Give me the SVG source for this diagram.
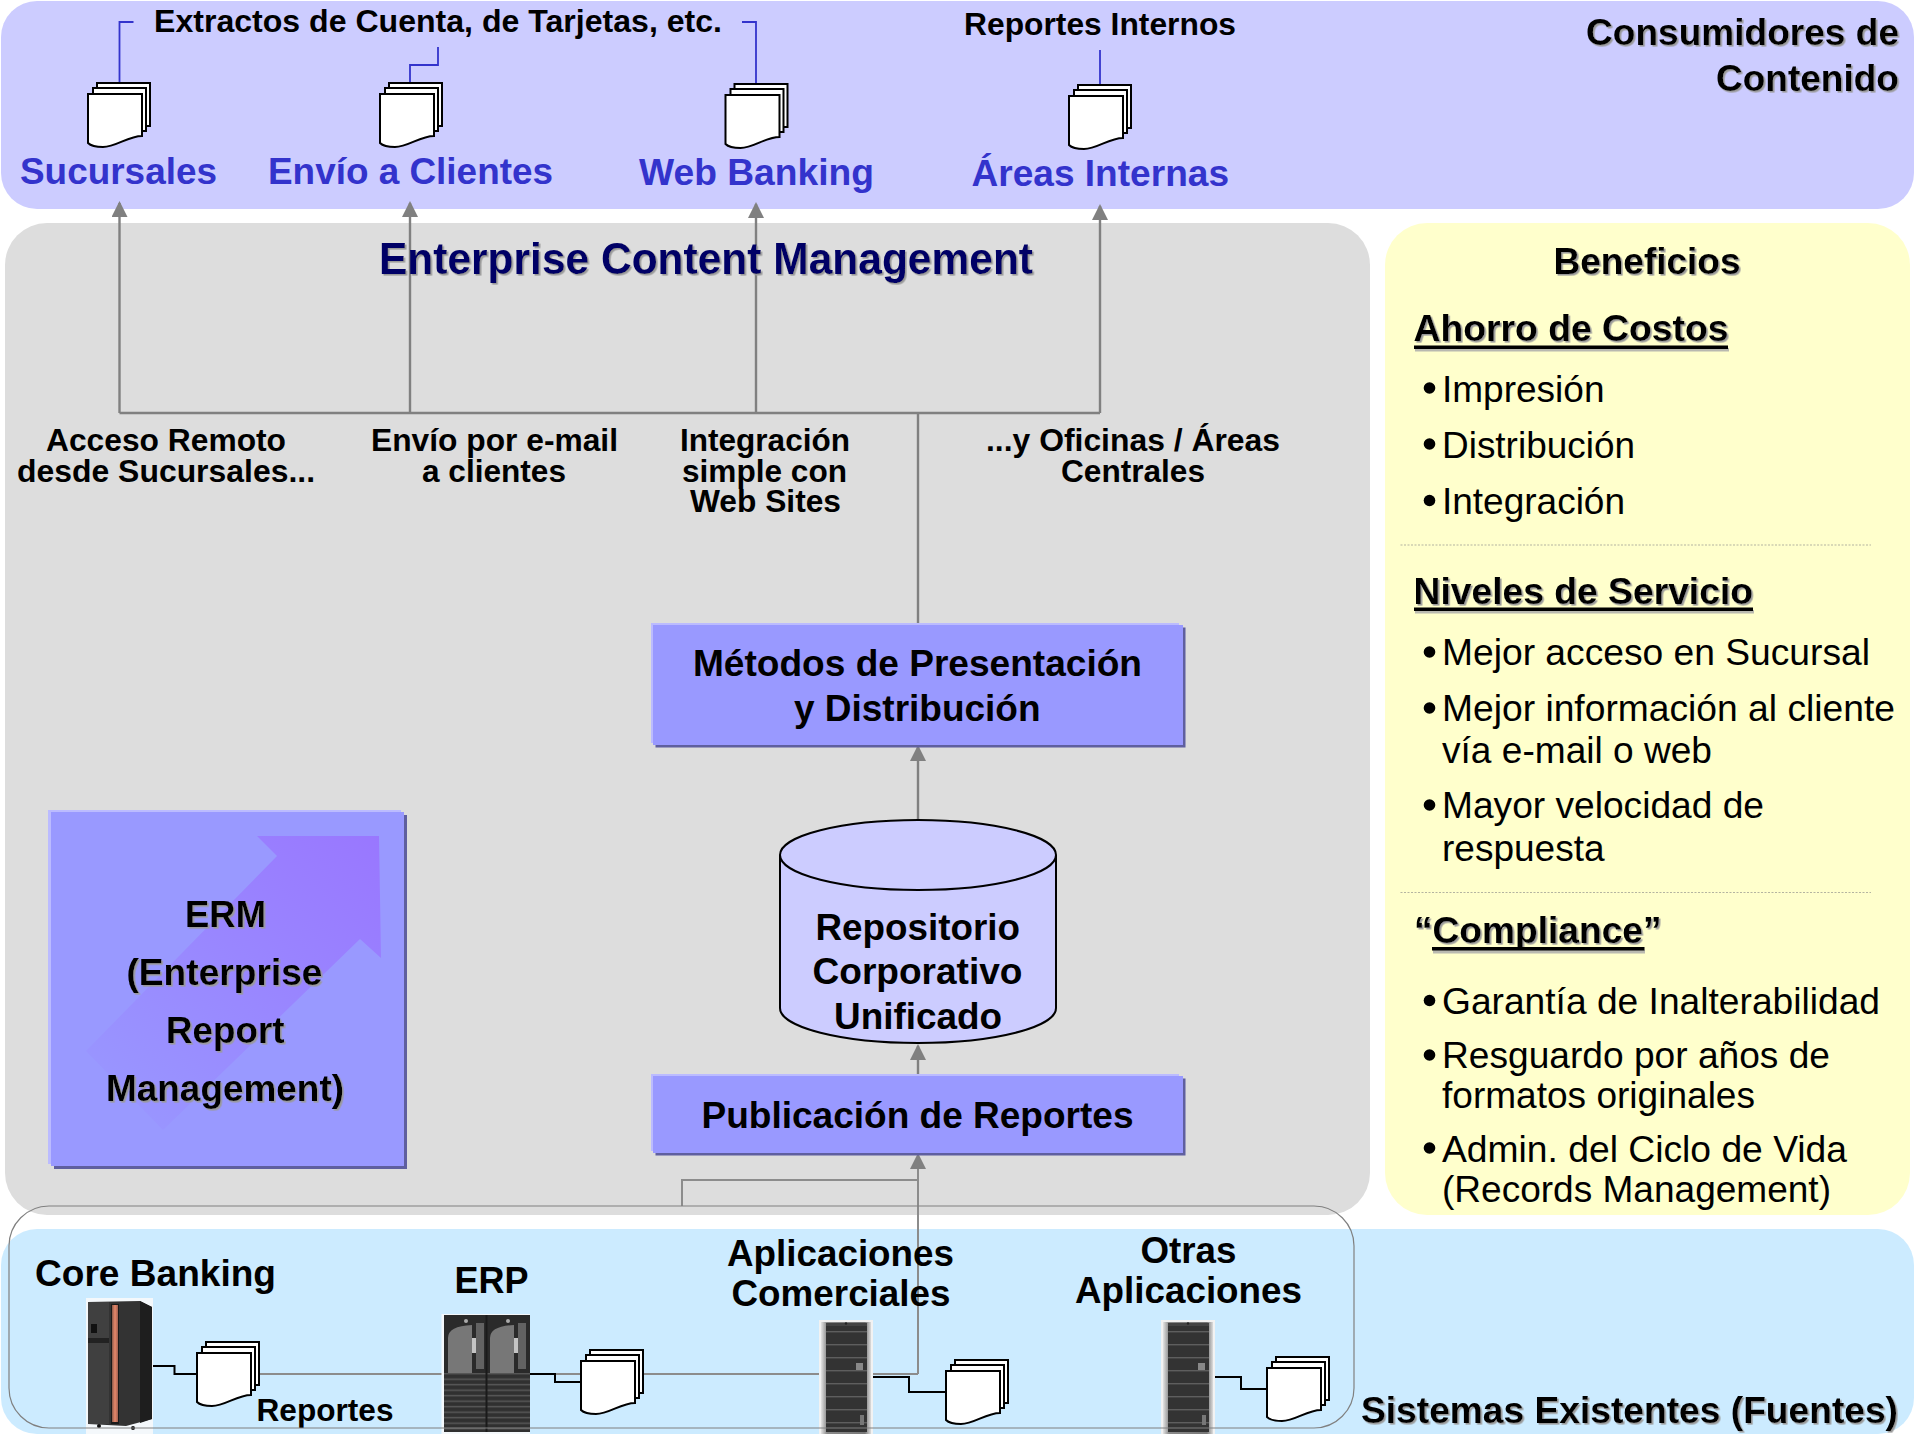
<svg xmlns="http://www.w3.org/2000/svg" xmlns:xlink="http://www.w3.org/1999/xlink" width="1915" height="1435" viewBox="0 0 1915 1435">
<style>
text{font-family:"Liberation Sans",Arial,sans-serif;fill:#000;font-weight:700;font-size:37.5px}
.reg{font-weight:400;font-size:36.5px}
.mid{font-size:32px}
.blue{fill:#3333CC}
.navy{fill:#000066;font-size:44px}
.shadow{filter:url(#ts)}
.gline{fill:none;stroke:#808080;stroke-width:2.4}
.thin{fill:none;stroke:#8c8c8c;stroke-width:2}
.bline{fill:none;stroke:#3333CC;stroke-width:1.8}
.kline{fill:none;stroke:#000;stroke-width:2}
.box{fill:#9999FF}
.boxs{fill:#5F5F9F}
.boxh{fill:#BBBBFF}
.page{fill:#fff;stroke:#000;stroke-width:2}
.div{stroke:#b4b4a0;stroke-width:1.2;stroke-dasharray:2 1.5}
.ul{fill:#000}
.ulbg{fill:#b9b9b0}
</style>
<defs>
<filter id="ts" x="-5%" y="-10%" width="110%" height="125%"><feDropShadow dx="1.6" dy="1.6" stdDeviation="0.6" flood-color="#9a9a9a"/></filter>
<marker id="arr" markerUnits="userSpaceOnUse" markerWidth="16" markerHeight="16" refX="14" refY="8" orient="auto" viewBox="0 0 16 16"><path d="M16,8 L0,0 V16 Z" fill="#808080"/></marker>
<linearGradient id="arrowGrad" x1="1" y1="0" x2="0" y2="1"><stop offset="0" stop-color="#9977FF"/><stop offset="1" stop-color="#9999FF"/></linearGradient>
<linearGradient id="stripe" x1="0" y1="0" x2="1" y2="0"><stop offset="0" stop-color="#8a5a4a"/><stop offset=".5" stop-color="#e8886a"/><stop offset="1" stop-color="#a06050"/></linearGradient>
<linearGradient id="silver" x1="0" y1="0" x2="1" y2="0"><stop offset="0" stop-color="#e4e4e4"/><stop offset=".12" stop-color="#8a8a8a"/><stop offset=".88" stop-color="#777"/><stop offset="1" stop-color="#ddd"/></linearGradient>
<pattern id="grill" width="8" height="5.5" patternUnits="userSpaceOnUse"><rect width="8" height="5.5" fill="#303030"/><rect y="3.5" width="8" height="1.4" fill="#5a5a5a"/></pattern>
<pattern id="bays" width="8" height="13" patternUnits="userSpaceOnUse"><rect width="8" height="13" fill="#333"/><rect y="11" width="8" height="1.4" fill="#5e5e5e"/></pattern>
<g id="stack">
<rect class="page" x="9" y="0" width="53" height="43"/>
<rect class="page" x="5" y="5" width="53" height="43"/>
<path class="page" d="M0,11 H54 V53 C40,53 28,64 15,64 C8,64 3,63 0,60 Z"/>
</g>
<g id="tower">
<rect x="0" y="0" width="54" height="114" fill="#f2f2f2"/>
<rect x="2" y="2" width="50" height="112" fill="url(#silver)"/>
<rect x="7" y="5" width="41" height="107" fill="url(#bays)"/>
<rect x="7" y="3" width="41" height="3" fill="#444"/>
<circle cx="27" cy="3.5" r="1.2" fill="#222"/>
<rect x="37" y="43" width="7" height="7" fill="#888"/>
<rect x="41" y="95" width="4" height="10" fill="#777"/>
</g>
</defs>

<g id="panels">
<rect id="consumidores-band" x="1" y="1" width="1913" height="208" rx="36" fill="#CCCCFF"/>
<rect id="ecm-panel" x="5" y="223" width="1365" height="992" rx="42" fill="#DDDDDD"/>
<rect id="beneficios-panel" x="1385" y="223" width="525" height="992" rx="42" fill="#FFFFCC"/>
<rect id="sistemas-band" x="1" y="1229" width="1913" height="205" rx="36" fill="#CCEBFF"/>
</g>

<g id="connectors">
<path class="bline" d="M119.5,82 V22 H133.5"/>
<path class="bline" d="M410,82 V65 H438 V47"/>
<path class="bline" d="M756,84 V22 H742"/>
<path class="bline" d="M1100,84 V50"/>
<path class="gline" d="M119.5,413 V203" marker-end="url(#arr)"/>
<path class="gline" d="M410,413 V203" marker-end="url(#arr)"/>
<path class="gline" d="M756,413 V204" marker-end="url(#arr)"/>
<path class="gline" d="M1100,413 V206" marker-end="url(#arr)"/>
<path class="gline" d="M119.5,413 H1100"/>
<path class="gline" d="M918,413 V624"/>
<path class="gline" d="M918,820 V747" marker-end="url(#arr)"/>
<path class="gline" d="M918,1076 V1046" marker-end="url(#arr)"/>
<path class="thin" d="M918,1374 V1155" marker-end="url(#arr)"/>
<path class="thin" d="M682,1206 V1180 H918"/>
<path class="thin" d="M260,1374 H918"/>
<path class="kline" d="M153,1366 H174.5 V1374 H197"/>
<path class="kline" d="M530,1374 H555 V1382 H581"/>
<path class="kline" d="M873,1377 H909 V1392 H946"/>
<path class="kline" d="M1215,1377 H1241 V1389 H1267"/>
</g>

<g id="consumidores-text">
<text class="shadow" text-anchor="end" x="1899" y="45" textLength="313" lengthAdjust="spacingAndGlyphs">Consumidores de</text>
<text class="shadow" text-anchor="end" x="1899" y="91" textLength="183" lengthAdjust="spacingAndGlyphs">Contenido</text>
<text class="mid" x="154" y="32" textLength="568" lengthAdjust="spacingAndGlyphs">Extractos de Cuenta, de Tarjetas, etc.</text>
<text class="mid" x="964" y="34.5" textLength="272" lengthAdjust="spacingAndGlyphs">Reportes Internos</text>
</g>

<g id="sucursales"><use href="#stack" x="88" y="83"/><text class="blue" x="20" y="184" textLength="197" lengthAdjust="spacingAndGlyphs">Sucursales</text></g>
<g id="envio-clientes"><use href="#stack" x="380" y="83"/><text class="blue" x="268" y="184" textLength="285" lengthAdjust="spacingAndGlyphs">Envío a Clientes</text></g>
<g id="web-banking"><use href="#stack" x="725.5" y="84"/><text class="blue" x="639" y="185" textLength="235" lengthAdjust="spacingAndGlyphs">Web Banking</text></g>
<g id="areas-internas"><use href="#stack" x="1069" y="85"/><text class="blue" x="971.5" y="185.5" textLength="257.5" lengthAdjust="spacingAndGlyphs">Áreas Internas</text></g>

<g id="ecm-text">
<text class="navy shadow" x="379" y="274" textLength="654" lengthAdjust="spacingAndGlyphs">Enterprise Content Management</text>
<text class="mid" x="46" y="451" textLength="240" lengthAdjust="spacingAndGlyphs">Acceso Remoto</text>
<text class="mid" x="17" y="481.5" textLength="298" lengthAdjust="spacingAndGlyphs">desde Sucursales...</text>
<text class="mid" x="371" y="451" textLength="247" lengthAdjust="spacingAndGlyphs">Envío por e-mail</text>
<text class="mid" x="422" y="481.5" textLength="144" lengthAdjust="spacingAndGlyphs">a clientes</text>
<text class="mid" x="680" y="451" textLength="170" lengthAdjust="spacingAndGlyphs">Integración</text>
<text class="mid" x="682" y="481.5" textLength="165" lengthAdjust="spacingAndGlyphs">simple con</text>
<text class="mid" x="690" y="511.5" textLength="151" lengthAdjust="spacingAndGlyphs">Web Sites</text>
<text class="mid" x="986" y="451" textLength="294" lengthAdjust="spacingAndGlyphs">...y Oficinas / Áreas</text>
<text class="mid" x="1061" y="481.5" textLength="144" lengthAdjust="spacingAndGlyphs">Centrales</text>
</g>

<g id="metodos">
<rect class="boxh" x="651" y="623" width="528" height="120"/>
<rect class="boxs" x="655.5" y="627.5" width="530" height="120"/>
<rect class="box" x="653" y="625" width="530" height="120"/>
<text x="693" y="676" textLength="449" lengthAdjust="spacingAndGlyphs">Métodos de Presentación</text>
<text x="794" y="721" textLength="246.5" lengthAdjust="spacingAndGlyphs">y Distribución</text>
</g>

<g id="repositorio">
<path d="M780,855 A138,35 0 0 1 1056,855 V1008 A138,35 0 0 1 780,1008 Z" fill="#CCCCFF" stroke="#000" stroke-width="2"/>
<path d="M780,855 A138,35 0 0 0 1056,855" fill="none" stroke="#000" stroke-width="2"/>
<text x="815.5" y="940" textLength="204.5" lengthAdjust="spacingAndGlyphs">Repositorio</text>
<text x="812.5" y="984" textLength="210" lengthAdjust="spacingAndGlyphs">Corporativo</text>
<text x="834" y="1029" textLength="168" lengthAdjust="spacingAndGlyphs">Unificado</text>
</g>

<g id="publicacion">
<rect class="boxh" x="651" y="1074" width="528" height="77"/>
<rect class="boxs" x="655.5" y="1078.5" width="530" height="77"/>
<rect class="box" x="653" y="1076" width="530" height="77"/>
<text x="701.5" y="1128" textLength="432" lengthAdjust="spacingAndGlyphs">Publicación de Reportes</text>
</g>

<g id="erm">
<rect class="boxh" x="48" y="810" width="353" height="354"/>
<rect class="boxs" x="54" y="815" width="353" height="354"/>
<rect class="box" x="51" y="812" width="353" height="354"/>
<polygon points="379,836 257,836 277,856 86,1051 163,1130 360,939 381,958" fill="url(#arrowGrad)"/>
<g class="shadow">
<text x="185" y="926.5" textLength="81" lengthAdjust="spacingAndGlyphs">ERM</text>
<text x="126.5" y="984.5" textLength="196" lengthAdjust="spacingAndGlyphs">(Enterprise</text>
<text x="166" y="1042.5" textLength="118.5" lengthAdjust="spacingAndGlyphs">Report</text>
<text x="106" y="1100.5" textLength="238" lengthAdjust="spacingAndGlyphs">Management)</text>
</g>
</g>

<g id="beneficios">
<g class="shadow">
<text x="1553.5" y="274" textLength="187" lengthAdjust="spacingAndGlyphs">Beneficios</text>
<text x="1413.5" y="340.5" textLength="315" lengthAdjust="spacingAndGlyphs">Ahorro de Costos</text>
<text x="1413.5" y="604" textLength="339.5" lengthAdjust="spacingAndGlyphs">Niveles de Servicio</text>
<text x="1414" y="942.5" textLength="247.5" lengthAdjust="spacingAndGlyphs">“Compliance”</text>
</g>
<rect class="ulbg" x="1415" y="348" width="314" height="3.5"/>
<rect class="ul" x="1414" y="345.5" width="314" height="3.5"/>
<rect class="ulbg" x="1415" y="610" width="339" height="3.5"/>
<rect class="ul" x="1414" y="607.5" width="339" height="3.5"/>
<rect class="ulbg" x="1433" y="950" width="212" height="3.5"/>
<rect class="ul" x="1432" y="947" width="212.5" height="3.5"/>
<line class="div" x1="1400.5" y1="545" x2="1871" y2="545"/>
<line class="div" x1="1400.5" y1="892.5" x2="1871" y2="892.5"/>
<g fill="#000">
<circle cx="1429.5" cy="388" r="5.8"/><circle cx="1429.5" cy="444" r="5.8"/><circle cx="1429.5" cy="500.5" r="5.8"/>
<circle cx="1429.5" cy="652" r="5.8"/><circle cx="1429.5" cy="708" r="5.8"/><circle cx="1429.5" cy="805" r="5.8"/>
<circle cx="1429.5" cy="1000.5" r="5.8"/><circle cx="1429.5" cy="1055" r="5.8"/><circle cx="1429.5" cy="1148" r="5.8"/>
</g>
<text class="reg" x="1442" y="402" textLength="162.5" lengthAdjust="spacingAndGlyphs">Impresión</text>
<text class="reg" x="1442" y="458" textLength="193" lengthAdjust="spacingAndGlyphs">Distribución</text>
<text class="reg" x="1442" y="514" textLength="183" lengthAdjust="spacingAndGlyphs">Integración</text>
<text class="reg" x="1442" y="665" textLength="428" lengthAdjust="spacingAndGlyphs">Mejor acceso en Sucursal</text>
<text class="reg" x="1442" y="720.5" textLength="453" lengthAdjust="spacingAndGlyphs">Mejor información al cliente</text>
<text class="reg" x="1442" y="762.5" textLength="270" lengthAdjust="spacingAndGlyphs">vía e-mail o web</text>
<text class="reg" x="1442" y="818" textLength="322" lengthAdjust="spacingAndGlyphs">Mayor velocidad de</text>
<text class="reg" x="1442" y="860.5" textLength="162.5" lengthAdjust="spacingAndGlyphs">respuesta</text>
<text class="reg" x="1442" y="1014" textLength="438" lengthAdjust="spacingAndGlyphs">Garantía de Inalterabilidad</text>
<text class="reg" x="1442" y="1068" textLength="388" lengthAdjust="spacingAndGlyphs">Resguardo por años de</text>
<text class="reg" x="1442" y="1108" textLength="313" lengthAdjust="spacingAndGlyphs">formatos originales</text>
<text class="reg" x="1442" y="1162" textLength="405" lengthAdjust="spacingAndGlyphs">Admin. del Ciclo de Vida</text>
<text class="reg" x="1442" y="1201.5" textLength="389" lengthAdjust="spacingAndGlyphs">(Records Management)</text>
</g>

<g id="core-banking">
<rect x="86" y="1298" width="67" height="136" fill="#f4f8fb"/>
<polygon points="88,1302 140,1301 152,1307 152,1419 126,1426 88,1424" fill="#333"/>
<rect x="88" y="1302" width="21" height="122" fill="#404040"/>
<rect x="88" y="1338" width="21" height="5" fill="#222"/>
<rect x="91" y="1324" width="6" height="9" fill="#111"/>
<polygon points="140,1301 152,1307 152,1419 140,1423" fill="#1e1e1e"/>
<rect x="111" y="1304" width="8" height="120" fill="#1a1a1a"/>
<rect x="112" y="1305" width="6" height="117" fill="url(#stripe)"/>
<circle cx="99" cy="1426" r="2" fill="#111"/><circle cx="133" cy="1428" r="2" fill="#111"/>
<use href="#stack" x="197" y="1342"/>
<text x="35" y="1286" textLength="241" lengthAdjust="spacingAndGlyphs">Core Banking</text>
<text class="mid" x="256.5" y="1420.5" textLength="137" lengthAdjust="spacingAndGlyphs">Reportes</text>
</g>

<g id="erp">
<rect x="441.5" y="1314" width="88.5" height="120" fill="#f4f8fb"/>
<rect x="444" y="1315" width="86" height="58" fill="#2a2a2a"/>
<path d="M448,1373 V1338 Q448,1326 472,1325 V1373 Z M490,1373 V1338 Q490,1326 514,1325 V1373 Z" fill="#777"/>
<path d="M476,1323 H484 V1369 H476 Z M518,1323 H526 V1369 H518 Z" fill="#626262"/>
<rect x="472" y="1338" width="4" height="15" fill="#c4c4c4"/><rect x="514" y="1338" width="4" height="15" fill="#c4c4c4"/>
<circle cx="466" cy="1321" r="2" fill="#aaa"/><circle cx="508" cy="1321" r="2" fill="#aaa"/>
<rect x="444" y="1373" width="86" height="59" fill="url(#grill)"/>
<rect x="485.5" y="1315" width="2" height="117" fill="#1a1a1a"/>
<use href="#stack" x="581" y="1350"/>
<text x="454.5" y="1293" textLength="74" lengthAdjust="spacingAndGlyphs">ERP</text>
</g>

<g id="aplicaciones-comerciales">
<use href="#tower" x="819" y="1320"/>
<use href="#stack" x="946" y="1360"/>
<text x="727" y="1266" textLength="227" lengthAdjust="spacingAndGlyphs">Aplicaciones</text>
<text x="731.5" y="1306" textLength="219" lengthAdjust="spacingAndGlyphs">Comerciales</text>
</g>

<g id="otras-aplicaciones">
<use href="#tower" x="1161" y="1320"/>
<use href="#stack" x="1267" y="1357"/>
<text x="1140.5" y="1263" textLength="96" lengthAdjust="spacingAndGlyphs">Otras</text>
<text x="1075" y="1303" textLength="227" lengthAdjust="spacingAndGlyphs">Aplicaciones</text>
</g>

<text id="sistemas-label" class="shadow" x="1361" y="1423" textLength="537" lengthAdjust="spacingAndGlyphs">Sistemas Existentes (Fuentes)</text>
<rect id="fuentes-outline" x="9" y="1206" width="1345" height="222" rx="40" fill="none" stroke="#808080" stroke-width="1.2"/>
</svg>
